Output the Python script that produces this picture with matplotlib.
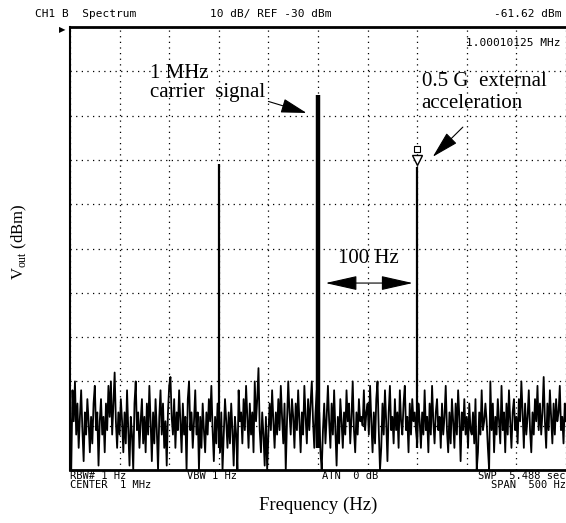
import numpy as np
import matplotlib
matplotlib.use("Agg")
import matplotlib.pyplot as plt
from matplotlib import transforms

# Spectrum trace: offset from 1 MHz (Hz) vs level (dBm)
noise_dbm = [
    -117, -130, -112, -119, -110, -122, -115, -125, -118, -112, -121, -128, -117, -122, -114, -119, -126, -118, -124, -115,
    -111, -121, -117, -129, -119, -114, -122, -118, -126, -115, -121, -111, -118, -110, -122, -115, -108, -119, -125, -117,
    -122, -114, -119, -126, -117, -124, -112, -121, -129, -118, -122, -130, -115, -110, -121, -117, -125, -119, -114, -124,
    -118, -126, -115, -122, -111, -119, -128, -117, -124, -114, -121, -130, -118, -112, -122, -115, -125, -119, -129, -117,
    -111, -109, -118, -122, -114, -125, -117, -121, -112, -119, -126, -115, -122, -118, -130, -114, -110, -121, -117, -125,
    -119, -112, -122, -117, -130, -118, -125, -115, -121, -126, -117, -122, -114, -119, -111, -121, -128, -118, -124, -115,
    -121, -126, -117, -130, -122, -114, -119, -125, -117, -124, -115, -121, -129, -118, -122, -130, -112, -119, -117, -124,
    -114, -121, -111, -118, -125, -115, -122, -117, -126, -110, -119, -114, -107, -121, -126, -117, -122, -129, -118, -130,
    -122, -115, -121, -112, -119, -125, -117, -122, -114, -121, -111, -118, -124, -115, -130, -119, -110, -117, -122, -114,
    -118, -125, -115, -121, -112, -119, -126, -117, -122, -111, -118, -124, -114, -121, -115, -110, -119, -125, -117, -112,
    -122, -117, -126, -130, -121, -115, -124, -118, -111, -119, -125, -115, -122, -112, -121, -129, -118, -124, -114, -119,
    -125, -117, -122, -112, -119, -115, -124, -118, -110, -121, -126, -117, -122, -114, -119, -118, -120, -112, -121, -117,
    -115, -122, -111, -119, -126, -117, -124, -114, -110, -121, -130, -125, -115, -122, -112, -119, -128, -117, -111, -121,
    -118, -124, -114, -121, -117, -125, -112, -119, -122, -115, -111, -121, -118, -126, -115, -122, -114, -119, -117, -121,
    -124, -115, -119, -125, -117, -122, -112, -121, -118, -126, -115, -122, -111, -119, -124, -117, -114, -121, -118, -125,
    -115, -122, -118, -111, -121, -126, -117, -124, -114, -119, -125, -115, -122, -112, -118, -128, -117, -121, -114, -122,
    -118, -125, -115, -121, -122, -117, -124, -114, -130, -126, -117, -122, -112, -121, -119, -115, -119, -125, -130, -110,
    -121, -115, -126, -118, -122, -114, -119, -124, -111, -121, -117, -126, -115, -122, -112, -119, -125, -117, -114, -121,
    -118, -124, -114, -119, -110, -117, -125, -115, -122, -118, -112, -121, -126, -117, -122, -114, -119, -111, -121, -115,
    -122, -117, -109, -119, -125, -115, -121, -112, -118, -124, -115, -122, -114, -119, -117, -111, -121, -118, -124, -115,
    -119,
]
noise_freq = np.linspace(-250, 250, len(noise_dbm))

peak_freq = [-100, 0, 100]
peak_dbm = [-61.0, -45.3, -61.6]
peak_width = [1.6, 3.2, 1.6]

marker_freq = 100
marker_dbm = -61.62

plt.rcParams["font.family"] = ["DejaVu Sans"]
serif = "Liberation Serif"
mono = "DejaVu Sans Mono"

fig = plt.figure(figsize=(5.66, 5.23), dpi=100)
ax = fig.add_axes([70 / 566, 1 - 470 / 523, 496 / 566, 443 / 523])

ax.plot(noise_freq, noise_dbm, color="black", lw=1.3)
for f, p, w in zip(peak_freq, peak_dbm, peak_width):
    base = np.interp(f, noise_freq, noise_dbm)
    ax.vlines(f, min(base, -125), p, color="black", lw=w)

# marker symbols on the right sideband
off = transforms.offset_copy(ax.transData, fig=fig, x=0, y=5, units="points")
ax.plot(marker_freq, marker_dbm, marker="v", ms=7, mfc="white", mec="black",
        mew=1, transform=off)
off2 = transforms.offset_copy(ax.transData, fig=fig, x=0, y=13, units="points")
ax.plot(marker_freq, marker_dbm, marker="s", ms=5, mfc="white", mec="black",
        mew=0.8, transform=off2)

ax.set_xlim(-250, 250)
ax.set_ylim(-130, -30)
ax.set_xticks(np.arange(-250, 251, 50))
ax.set_yticks(np.arange(-130, -29, 10))
ax.tick_params(length=0, labelbottom=False, labelleft=False)
ax.grid(True, color="black", lw=0.9, linestyle=(0, (1, 3.5)))
ax.spines["right"].set_visible(False)
ax.spines["left"].set_linewidth(1.5)
ax.spines["top"].set_linewidth(2)
ax.spines["bottom"].set_linewidth(2)

# annotations (positions in Hz offset / dBm)
big = dict(family=serif, fontsize=15, va="baseline", ha="left")
ax.text(-169, -41.6, "1 MHz", **big)
ax.text(-169, -45.7, "carrier  signal", **big)
ax.annotate("", xy=(-11.6, -49.4), xytext=(-50, -46.8),
            arrowprops=dict(arrowstyle="-|>,head_length=1.6,head_width=0.45",
                            color="black", lw=0.8, shrinkA=0, shrinkB=0))
ax.text(104.5, -43.3, "0.5 G  external", **big)
ax.text(104.5, -48.3, "acceleration", **big)
ax.annotate("", xy=(115.7, -59.3), xytext=(146, -52.6),
            arrowprops=dict(arrowstyle="-|>,head_length=1.7,head_width=0.45",
                            color="black", lw=0.8, shrinkA=0, shrinkB=0))
ax.text(51, -83.3, "100 Hz", family=serif, fontsize=15, ha="center", va="baseline")
ax.annotate("", xy=(7.6, -87.8), xytext=(95.5, -87.8),
            arrowprops=dict(arrowstyle="<|-|>,head_length=2.0,head_width=0.45",
                            color="black", lw=0.8, shrinkA=0, shrinkB=0))

# instrument header and footer
def px(x, y):
    return x / 566, 1 - y / 523

fig.text(*px(35, 14), "CH1 B  Spectrum", family=mono, fontsize=8, va="center")
fig.text(*px(210, 14), "10 dB/ REF -30 dBm", family=mono, fontsize=8, va="center")
fig.text(*px(562, 14), "-61.62 dBm", family=mono, fontsize=8, va="center", ha="right")
fig.text(*px(560, 43), "1.00010125 MHz", family=mono, fontsize=8, va="center", ha="right")
fig.text(*px(62, 30), "\u25b6", fontsize=6, va="center", ha="center")

fig.text(*px(70, 476), "RBW# 1 Hz", family=mono, fontsize=7.5, va="center")
fig.text(*px(187, 476), "VBW 1 Hz", family=mono, fontsize=7.5, va="center")
fig.text(*px(322, 476), "ATN  0 dB", family=mono, fontsize=7.5, va="center")
fig.text(*px(566, 476), "SWP  5.488 sec", family=mono, fontsize=7.5, va="center", ha="right")
fig.text(*px(70, 485), "CENTER  1 MHz", family=mono, fontsize=7.5, va="center")
fig.text(*px(566, 485), "SPAN  500 Hz", family=mono, fontsize=7.5, va="center", ha="right")

fig.text(*px(318, 505), "Frequency (Hz)", family=serif, fontsize=13.5, ha="center", va="center")
fig.text(*px(19, 242), r"V$_{\mathregular{out}}$ (dBm)", family=serif, fontsize=12,
         ha="center", va="center", rotation=90)

fig.savefig("out.png", dpi=100)
